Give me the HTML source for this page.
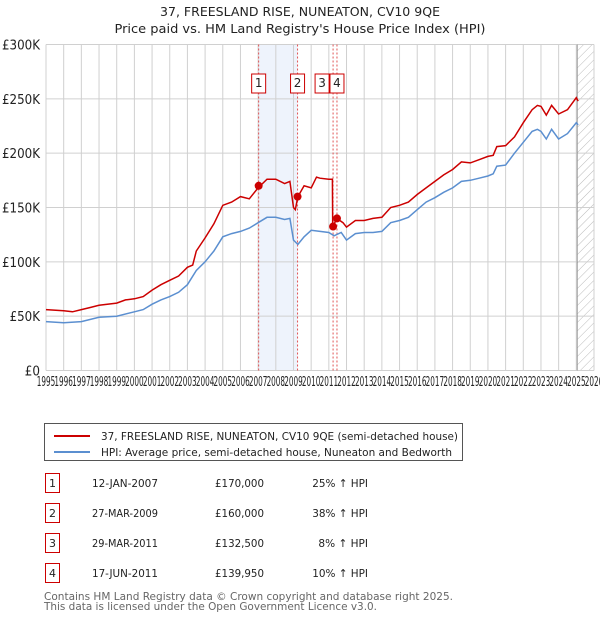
<!DOCTYPE html>
<html><head><meta charset="utf-8"><style>
body{margin:0;background:#fff;font-family:"DejaVu Sans","Liberation Sans",sans-serif;}
svg text{font-family:"DejaVu Sans","Liberation Sans",sans-serif;}
</style></head><body>
<svg id="c" width="600" height="620" style="position:absolute;left:0;top:0">
<defs><pattern id="hatch" width="6" height="6" patternUnits="userSpaceOnUse" patternTransform="rotate(45)"><line x1="0" y1="0" x2="0" y2="6" stroke="#bbb" stroke-width="1"/></pattern></defs>
<text x="300" y="16" text-anchor="middle" font-size="12" fill="#222" textLength="280" lengthAdjust="spacingAndGlyphs">37, FREESLAND RISE, NUNEATON, CV10 9QE</text>
<text x="300" y="33" text-anchor="middle" font-size="12" fill="#222" textLength="371" lengthAdjust="spacingAndGlyphs">Price paid vs. HM Land Registry's House Price Index (HPI)</text>
<g id="grid"></g><g id="marks"></g>
<g>
<rect x="44.5" y="423.5" width="418" height="37" fill="#fff" stroke="#555"/>
<line x1="54" x2="90" y1="436" y2="436" stroke="#cc0000" stroke-width="2"/>
<text x="101" y="440" font-size="11" fill="#222" textLength="357" lengthAdjust="spacingAndGlyphs">37, FREESLAND RISE, NUNEATON, CV10 9QE (semi-detached house)</text>
<line x1="54" x2="90" y1="452" y2="452" stroke="#5b8fd0" stroke-width="2"/>
<text x="101" y="456" font-size="11" fill="#222" textLength="351" lengthAdjust="spacingAndGlyphs">HPI: Average price, semi-detached house, Nuneaton and Bedworth</text>
</g>
<g id="tbl"></g>
<text x="44" y="600" font-size="11" fill="#666" textLength="409" lengthAdjust="spacingAndGlyphs">Contains HM Land Registry data © Crown copyright and database right 2025.</text>
<text x="44" y="610" font-size="11" fill="#666" textLength="333" lengthAdjust="spacingAndGlyphs">This data is licensed under the Open Government Licence v3.0.</text>
</svg>
<script>
const priceYears=[1995,1996,1996.5,1997,1997.5,1998,1999,1999.5,2000,2000.5,2001,2001.5,2002,2002.5,2003,2003.3,2003.5,2004,2004.5,2005,2005.5,2006,2006.5,2007,2007.5,2008,2008.5,2008.8,2009,2009.1,2009.25,2009.6,2010,2010.3,2010.5,2011,2011.2,2011.22,2011.45,2011.8,2012,2012.5,2013,2013.5,2014,2014.5,2015,2015.5,2016,2016.5,2017,2017.5,2018,2018.5,2019,2019.5,2020,2020.3,2020.5,2021,2021.5,2022,2022.5,2022.8,2023,2023.3,2023.6,2024,2024.5,2025,2025.1];
const priceVals=[56,55,54,56,58,60,62,65,66,68,74,79,83,87,95,97,110,122,135,152,155,160,158,168,176,176,172,174,150,148,160,170,168,178,177,176,176,132,140,136,132,138,138,140,141,150,152,155,162,168,174,180,185,192,191,194,197,198,206,207,215,228,240,244,243,235,244,236,240,251,248];
const hpiYears=[1995,1996,1997,1998,1999,2000,2000.5,2001,2001.5,2002,2002.5,2003,2003.5,2004,2004.5,2005,2005.5,2006,2006.5,2007,2007.5,2008,2008.5,2008.8,2009,2009.25,2009.6,2010,2010.5,2011,2011.3,2011.7,2012,2012.5,2013,2013.5,2014,2014.5,2015,2015.5,2016,2016.5,2017,2017.5,2018,2018.5,2019,2019.5,2020,2020.3,2020.5,2021,2021.5,2022,2022.5,2022.8,2023,2023.3,2023.6,2024,2024.5,2025,2025.1];
const hpiVals=[45,44,45,49,50,54,56,61,65,68,72,79,92,100,110,123,126,128,131,136,141,141,139,140,120,116,123,129,128,127,124,127,120,126,127,127,128,136,138,141,148,155,159,164,168,174,175,177,179,181,188,189,200,210,220,222,220,213,222,213,218,228,226];
const saleLabels=["1","2","3","4"];
const saleYears=[2007.03,2009.23,2011.24,2011.46];
const saleVals=[170,160,132.5,139.95];
const saleDates=["12-JAN-2007","27-MAR-2009","29-MAR-2011","17-JUN-2011"];
const salePrices=["£170,000","£160,000","£132,500","£139,950"];
const saleHpi=["25% ↑ HPI","38% ↑ HPI","8% ↑ HPI","10% ↑ HPI"];
const yTicks=[0,50,100,150,200,250,300];
const yTickLabels=["£0","£50K","£100K","£150K","£200K","£250K","£300K"];
const xTicks=[];for(let y=1995;y<=2026;y++)xTicks.push(y);

const X0=46,X1=594,Y0=370.5,Y1=44.5;
const xs=y=>X0+(y-1995)*(X1-X0)/31;
const ys=v=>Y0-v*(Y0-Y1)/300;
const NS="http://www.w3.org/2000/svg";
function mk(p,tag,at){const e=document.createElementNS(NS,tag);for(const k in at)e.setAttribute(k,at[k]);p.appendChild(e);return e;}
const g=document.getElementById('grid'),m=document.getElementById('marks');
let band=mk(g,'rect',{x:xs(saleYears[0]),y:Y1,width:xs(saleYears[1])-xs(saleYears[0]),height:Y0-Y1,fill:'#eef3fc'});


let hx=xs(2025.05);
let hatch=mk(g,'rect',{x:hx,y:Y1,width:X1-hx,height:Y0-Y1,fill:'url(#hatch)'});


xTicks.forEach(t=>{
 let l=mk(g,'line',{x1:xs(t),x2:xs(t),y1:Y1,y2:Y0,stroke:'#d0d0d0','stroke-width':1});
 
 
 let tx=mk(g,'text',{x:0,y:0,'text-anchor':'middle','font-size':13,fill:'#222',transform:`translate(${xs(t)},386) scale(0.56,1)`});tx.textContent=t;
 
 
});
yTicks.forEach((t,i)=>{
 let l=mk(g,'line',{x1:X0,x2:X1,y1:ys(t),y2:ys(t),stroke:'#d0d0d0','stroke-width':1});
 
 
 let tx=mk(g,'text',{x:40,y:ys(t)+5,'text-anchor':'end','font-size':13,fill:'#222',textLength:yTickLabels[i].length*7.6,lengthAdjust:'spacingAndGlyphs'});tx.textContent=yTickLabels[i];
 
 
});
mk(g,'line',{x1:hx,x2:hx,y1:Y1,y2:Y0,stroke:'#999'});
saleYears.forEach((s,i)=>{
 let l=mk(m,'line',{x1:xs(s),x2:xs(s),y1:Y1,y2:Y0,stroke:'#e05555','stroke-dasharray':'2,2','stroke-width':1});
 
 
});
function path(xsA,vs,col,name){let d=xsA.map((y,i)=>(i?'L':'M')+xs(y).toFixed(1)+','+ys(vs[i]).toFixed(1)).join('');
 let p=mk(m,'path',{d:d,fill:'none',stroke:col,'stroke-width':1.5});
 
 }
path(hpiYears,hpiVals,'#5b8fd0','hpi-line');
path(priceYears,priceVals,'#cc0000','price-line');
saleYears.forEach((s,i)=>{
 let c=mk(m,'circle',{cx:xs(s),cy:ys(saleVals[i]),r:4,fill:'#cc0000'});
 
 
 let bx=xs(s)-7-(i==2?11:0);
 let r=mk(m,'rect',{x:bx,y:74,width:14,height:19,fill:'#fff',stroke:'#cc0000'});
 
 
 let t=mk(m,'text',{x:bx+7,y:87,'text-anchor':'middle','font-size':12,fill:'#222'});t.textContent=saleLabels[i];
});
const tbl=document.getElementById('tbl');
saleLabels.forEach((l,i)=>{
 const cy=483+i*30;
 const row=mk(tbl,'g',{});
 
 
 mk(row,'rect',{x:45.5,y:cy-9.5,width:14,height:19,fill:'#fff',stroke:'#cc0000'});
 let a=mk(row,'text',{x:52.5,y:cy+4,'text-anchor':'middle','font-size':11,fill:'#222'});a.textContent=l;
 let b=mk(row,'text',{x:125,y:cy+4,'text-anchor':'middle','font-size':11,fill:'#222',textLength:66,lengthAdjust:'spacingAndGlyphs'});b.textContent=saleDates[i];
 let c=mk(row,'text',{x:264,y:cy+4,'text-anchor':'end','font-size':11,fill:'#222',textLength:49,lengthAdjust:'spacingAndGlyphs'});c.textContent=salePrices[i];
 let d=mk(row,'text',{x:368,y:cy+4,'text-anchor':'end','font-size':11,fill:'#222',textLength:saleHpi[i].length*6.2,lengthAdjust:'spacingAndGlyphs'});d.textContent=saleHpi[i];
});
</script>
</body></html>
